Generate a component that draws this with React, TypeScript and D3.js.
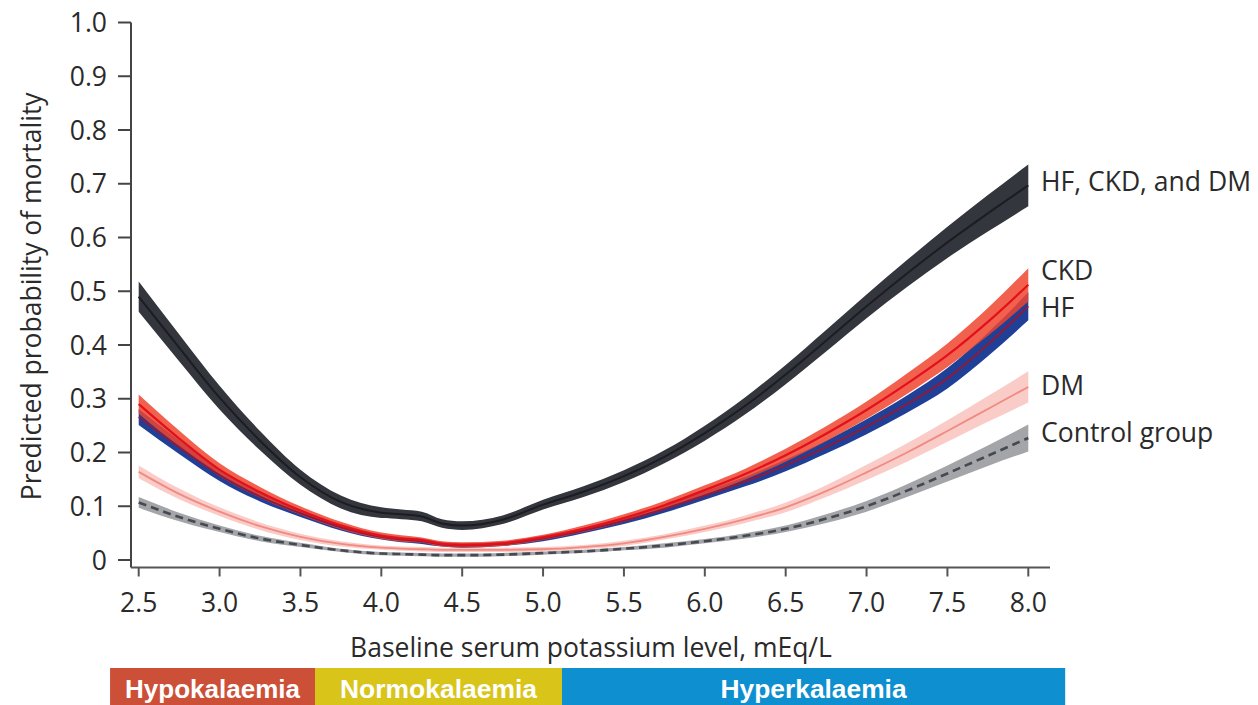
import React from "react";
import * as d3 from "d3";

const potassium = [2.5, 2.75, 3, 3.25, 3.5, 3.75, 4, 4.125, 4.25, 4.375, 4.5, 4.75, 5, 5.25, 5.5, 5.75, 6, 6.25, 6.5, 6.75, 7, 7.25, 7.5, 7.75, 8];

const hfCkdDm = [0.49, 0.395, 0.302, 0.222, 0.154, 0.108, 0.088, 0.085, 0.081, 0.068, 0.064, 0.075, 0.103, 0.127, 0.156, 0.192, 0.236, 0.287, 0.345, 0.408, 0.472, 0.533, 0.591, 0.645, 0.697];
const hfCkdDmCi = [0.028, 0.025, 0.022, 0.018, 0.014, 0.012, 0.01, 0.009, 0.009, 0.008, 0.008, 0.008, 0.009, 0.01, 0.011, 0.012, 0.014, 0.016, 0.018, 0.02, 0.022, 0.025, 0.029, 0.034, 0.039];

const ckd = [0.29, 0.226, 0.168, 0.126, 0.092, 0.064, 0.045, 0.04, 0.037, 0.03, 0.028, 0.031, 0.042, 0.058, 0.078, 0.102, 0.13, 0.16, 0.195, 0.235, 0.279, 0.328, 0.381, 0.443, 0.512];
const ckdCi = [0.018, 0.015, 0.012, 0.01, 0.008, 0.007, 0.006, 0.006, 0.005, 0.005, 0.005, 0.005, 0.005, 0.006, 0.007, 0.008, 0.009, 0.01, 0.012, 0.014, 0.016, 0.019, 0.022, 0.026, 0.031];

const hf = [0.266, 0.21, 0.158, 0.118, 0.087, 0.061, 0.043, 0.038, 0.035, 0.029, 0.027, 0.03, 0.04, 0.055, 0.073, 0.095, 0.12, 0.146, 0.176, 0.21, 0.248, 0.29, 0.338, 0.401, 0.472];
const hfCi = [0.015, 0.013, 0.011, 0.009, 0.007, 0.006, 0.005, 0.005, 0.005, 0.004, 0.004, 0.004, 0.005, 0.005, 0.006, 0.007, 0.008, 0.009, 0.011, 0.012, 0.014, 0.016, 0.019, 0.022, 0.026];

const dm = [0.164, 0.123, 0.09, 0.063, 0.043, 0.03, 0.023, 0.021, 0.02, 0.019, 0.019, 0.019, 0.02, 0.024, 0.031, 0.043, 0.058, 0.076, 0.098, 0.128, 0.163, 0.2, 0.24, 0.281, 0.322];
const dmCi = [0.012, 0.01, 0.008, 0.007, 0.006, 0.005, 0.004, 0.004, 0.004, 0.004, 0.004, 0.004, 0.004, 0.004, 0.005, 0.005, 0.006, 0.007, 0.009, 0.011, 0.014, 0.017, 0.02, 0.024, 0.029];

const control = [0.107, 0.08, 0.058, 0.04, 0.028, 0.018, 0.012, 0.011, 0.01, 0.009, 0.009, 0.01, 0.013, 0.016, 0.021, 0.027, 0.035, 0.045, 0.058, 0.077, 0.1, 0.129, 0.161, 0.194, 0.227];
const controlCi = [0.01, 0.008, 0.006, 0.005, 0.004, 0.003, 0.003, 0.003, 0.003, 0.003, 0.003, 0.003, 0.003, 0.003, 0.003, 0.004, 0.004, 0.005, 0.006, 0.008, 0.01, 0.012, 0.015, 0.019, 0.025];

const xTicks = [2.5, 3.0, 3.5, 4.0, 4.5, 5.0, 5.5, 6.0, 6.5, 7.0, 7.5, 8.0];
const yTicks = [0, 0.1, 0.2, 0.3, 0.4, 0.5, 0.6, 0.7, 0.8, 0.9, 1.0];

const labels = ["HF, CKD, and DM", "CKD", "HF", "DM", "Control group"];
const labelValues = [0.705, 0.538, 0.47, 0.325, 0.237];

const rangeNames = ["Hypokalaemia", "Normokalaemia", "Hyperkalaemia"];
const rangeStarts = [2.323, 3.59, 5.117];
const rangeEnds = [3.59, 5.117, 8.228];
const rangeColors = ["#cc4f37", "#d9c41a", "#0e8fcf"];

const font = "'Open Sans', 'Noto Sans', sans-serif";
const fs = 26.5;

export default function App() {
  const W = 1258;
  const H = 705;
  const x = d3.scaleLinear().domain([2.5, 8]).range([138.7, 1028.3]);
  const y = d3.scaleLinear().domain([0, 1]).range([560, 22.5]);

  const area = (c: number[], ci: number[]) =>
    d3
      .area<number>()
      .x((_, i) => x(potassium[i]))
      .y0((_, i) => y(c[i] - ci[i]))
      .y1((_, i) => y(c[i] + ci[i]))
      .curve(d3.curveMonotoneX)(c) || "";
  const line = (c: number[]) =>
    d3
      .line<number>()
      .x((_, i) => x(potassium[i]))
      .y((d) => y(d))
      .curve(d3.curveMonotoneX)(c) || "";

  const axisY = 567.5;
  const axisX = 131;

  return (
    <svg width={W} height={H} style={{ position: "absolute", left: 0, top: 0, background: "#fff" }}>
      <path d={area(control, controlCi)} fill="#a3a5a9" />
      <path d={area(dm, dmCi)} fill="#f9c6c2" opacity={0.9} />
      <path d={area(hf, hfCi)} fill="#203f97" />
      <path d={area(ckd, ckdCi)} fill="#f0442f" opacity={0.85} />
      <path d={area(hfCkdDm, hfCkdDmCi)} fill="#34363d" />
      <path d={line(control)} fill="none" stroke="#464950" strokeWidth={2.6} strokeDasharray="8 5" />
      <path d={line(dm)} fill="none" stroke="#f08a82" strokeWidth={1.8} />
      <path d={line(hf)} fill="none" stroke="#8c1c3c" strokeWidth={2} />
      <path d={line(ckd)} fill="none" stroke="#e3101c" strokeWidth={2.2} />
      <path d={line(hfCkdDm)} fill="none" stroke="#1c1d22" strokeWidth={2} />

      <line x1={axisX} x2={axisX} y1={y(1)} y2={axisY} stroke="#444" strokeWidth={2} />
      <line x1={axisX} x2={1050} y1={axisY} y2={axisY} stroke="#555" strokeWidth={2} />
      {yTicks.map((t) => (
        <g key={"y" + t}>
          <line x1={118} x2={axisX} y1={y(t)} y2={y(t)} stroke="#444" strokeWidth={2} />
          <text x={107} y={y(t)} dy="0.36em" textAnchor="end" fontFamily={font} fontSize={fs} fill="#2a2a2a">
            {t === 0 ? "0" : t.toFixed(1)}
          </text>
        </g>
      ))}
      {xTicks.map((t) => (
        <g key={"x" + t}>
          <line x1={x(t)} x2={x(t)} y1={axisY} y2={axisY + 9} stroke="#555" strokeWidth={2} />
          <text x={x(t)} y={612} textAnchor="middle" fontFamily={font} fontSize={fs} fill="#2a2a2a">
            {t.toFixed(1)}
          </text>
        </g>
      ))}
      <text x={591} y={657} textAnchor="middle" fontFamily={font} fontSize={fs} fill="#2a2a2a">
        Baseline serum potassium level, mEq/L
      </text>
      <text
        transform={`translate(41, ${y(0.5) + 5}) rotate(-90)`}
        textAnchor="middle"
        fontFamily={font}
        fontSize={fs}
        fill="#2a2a2a"
      >
        Predicted probability of mortality
      </text>

      {labels.map((l, i) => (
        <text key={l} x={1041} y={y(labelValues[i])} dy="0.36em" fontFamily={font} fontSize={fs} fill="#2a2a2a">
          {l}
        </text>
      ))}

      {rangeNames.map((n, i) => {
        const x0 = x(rangeStarts[i]);
        const x1 = x(rangeEnds[i]);
        const tw = [175, 197, 186][i];
        return (
          <g key={n}>
            <rect x={x0} y={668} width={x1 - x0} height={37} fill={rangeColors[i]} />
            <text
              x={(x0 + x1) / 2}
              y={698}
              textAnchor="middle"
              fontFamily="'Liberation Sans', Arial, sans-serif"
              fontWeight="bold"
              fontSize={25}
              textLength={tw}
              lengthAdjust="spacingAndGlyphs"
              fill="#fff"
            >
              {n}
            </text>
          </g>
        );
      })}
    </svg>
  );
}
